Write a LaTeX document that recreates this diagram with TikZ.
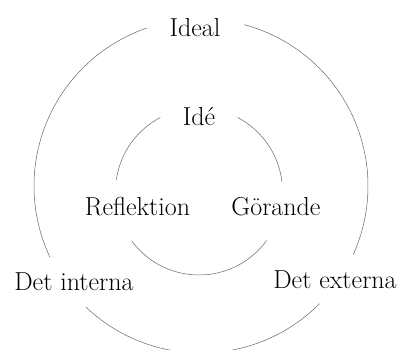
\documentclass[tikz,border=0pt]{standalone}
\usepackage{fontspec}
\begin{document}
\begin{tikzpicture}[x=1pt,y=1pt,
  ring/.style={draw=black!60,line width=0.5pt},
  lbl/.style={anchor=base,inner sep=0pt,font=\fontsize{26}{31}\selectfont}]
\useasboundingbox (0,0) rectangle (401,-349);
% centres
\coordinate (O) at (201,-186);
\coordinate (I) at (199,-191.5);
% outer ring
\draw[ring] ([shift={(109:167)}]O) arc[start angle=109,end angle=205.2,radius=167];
\draw[ring] ([shift={(226.5:167)}]O) arc[start angle=226.5,end angle=315.2,radius=167];
\draw[ring] ([shift={(335.7:167)}]O) arc[start angle=335.7,end angle=435,radius=167];
% inner ring
\draw[ring] ([shift={(117.6:83.5)}]I) arc[start angle=117.6,end angle=172,radius=83.5];
\draw[ring] ([shift={(216.2:83.5)}]I) arc[start angle=216.2,end angle=324,radius=83.5];
\draw[ring] ([shift={(366.6:83.5)}]I) arc[start angle=366.6,end angle=422.4,radius=83.5];
% labels
\node[lbl] (ideal) at (195,-36) {Ideal};
\node[lbl] (ide) at (199,-125) {Idé};
\node[lbl] (refl) at (137.5,-215) {Reflektion};
\node[lbl] (gor) at (276,-215) {Görande};
\node[lbl] (intern) at (74,-290) {Det interna};
\node[lbl] (extern) at (335,-288) {Det externa};
\end{tikzpicture}
\end{document}
